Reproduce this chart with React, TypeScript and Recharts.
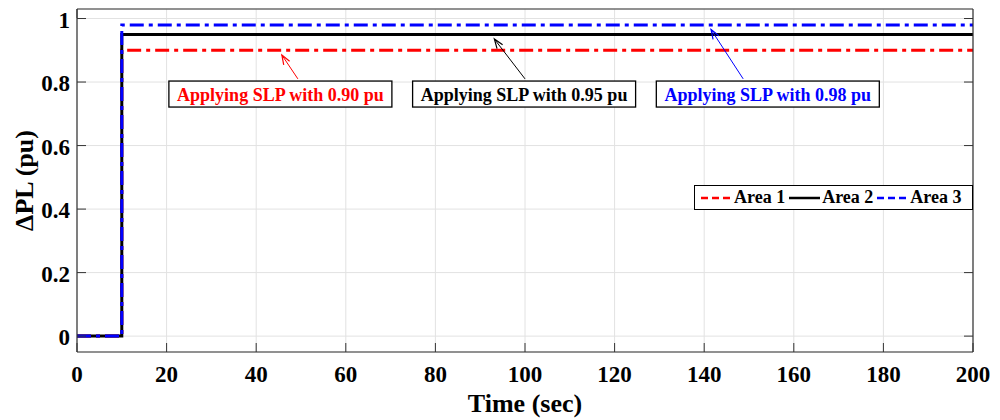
import React from "react";
import {
  CartesianGrid,
  Legend,
  Line,
  LineChart,
  ReferenceDot,
  ReferenceLine,
  XAxis,
  YAxis,
} from "recharts";

// step input: load change applied at t = 10 s
const time = [0, 10, 200];
const area1 = [0, 0.9, 0.9];
const area2 = [0, 0.95, 0.95];
const area3 = [0, 0.98, 0.98];

const xTicks = [0, 20, 40, 60, 80, 100, 120, 140, 160, 180, 200];
const yTicks = [0, 0.2, 0.4, 0.6, 0.8, 1];

// annotation boxes + arrows (data coordinates)
const noteTexts = ["Applying SLP with 0.90 pu", "Applying SLP with 0.95 pu", "Applying SLP with 0.98 pu"];
const noteColors = ["#ff0000", "#000000", "#0000ff"];
const noteBoxX = [45.4, 99.8, 154.2];
const noteBoxY = [0.8, 0.8, 0.8];
const noteTailX = [49.3, 100, 148.7];
const noteTailY = [0.81, 0.81, 0.81];
const noteTipX = [45.5, 92.9, 141.3];
const noteTipY = [0.9, 0.95, 0.98];

const FONT = '"Liberation Serif", "Times New Roman", serif';
const AXIS = "#333";

const data = time.map((t, i) => ({ t, a1: area1[i], a2: area2[i], a3: area3[i] }));

const legendDash: Record<string, string | undefined> = { a1: "7 4", a2: undefined, a3: "7 4" };

function BottomTick({ x, y, payload }: any) {
  return (
    <g>
      <line x1={x} x2={x} y1={y} y2={y - 9} stroke={AXIS} />
      <text x={x} y={y + 30} textAnchor="middle" fontFamily={FONT} fontSize={23} fontWeight="bold" fill="#000">
        {payload.value}
      </text>
    </g>
  );
}

function LeftTick({ x, y, payload }: any) {
  return (
    <g>
      <line x1={x} x2={x + 9} y1={y} y2={y} stroke={AXIS} />
      <text x={x - 7} y={y + 9} textAnchor="end" fontFamily={FONT} fontSize={23} fontWeight="bold" fill="#000">
        {payload.value}
      </text>
    </g>
  );
}

function TopTick({ x, y }: any) {
  return <line x1={x} x2={x} y1={y} y2={y + 9} stroke={AXIS} />;
}

function RightTick({ x, y }: any) {
  return <line x1={x} x2={x - 9} y1={y} y2={y} stroke={AXIS} />;
}

function arrowShape(color: string) {
  return (p: any) => {
    const { x1, y1, x2, y2 } = p;
    const ang = Math.atan2(y2 - y1, x2 - x1);
    const tx = x2 - 2 * Math.cos(ang);
    const ty = y2 - 2 * Math.sin(ang) + 3;
    const h = 10;
    const a1 = ang + Math.PI - 0.35;
    const a2 = ang + Math.PI + 0.35;
    return (
      <g>
        <line x1={x1} y1={y1} x2={tx} y2={ty} stroke={color} strokeWidth={1} />
        <polyline
          points={`${tx + h * Math.cos(a1)},${ty + h * Math.sin(a1)} ${tx},${ty} ${tx + h * Math.cos(a2)},${ty + h * Math.sin(a2)}`}
          fill="none"
          stroke={color}
          strokeWidth={1.2}
        />
      </g>
    );
  };
}

function boxShape(text: string, color: string) {
  return ({ cx, cy }: any) => (
    <g>
      <rect x={cx - 111.5} y={cy - 1} width={223} height={26} fill="#fff" stroke="#000" strokeWidth={1.3} />
      <text x={cx} y={cy + 19} textAnchor="middle" fontFamily={FONT} fontSize={18} fontWeight="bold" fill={color}>
        {text}
      </text>
    </g>
  );
}

function LegendBox({ payload }: any) {
  return (
    <div
      style={{
        boxSizing: "border-box",
        width: 279,
        height: 25,
        border: "1.5px solid #000",
        background: "#fff",
        display: "flex",
        alignItems: "center",
        paddingLeft: 6,
        fontFamily: FONT,
        fontWeight: "bold",
        fontSize: 18,
        color: "#000",
        whiteSpace: "nowrap",
      }}
    >
      {(payload || []).map((e: any) => (
        <span key={e.dataKey} style={{ display: "flex", alignItems: "center", marginRight: 4 }}>
          <svg width={31} height={6} style={{ marginRight: 2 }}>
            <line x1={0} x2={31} y1={3} y2={3} stroke={e.color} strokeWidth={2.5} strokeDasharray={legendDash[e.dataKey]} />
          </svg>
          {e.value}
        </span>
      ))}
    </div>
  );
}

export default function App() {
  return (
    <div style={{ position: "absolute", left: 0, top: 0, background: "#fff" }}>
      <LineChart width={1000} height={420} data={data} margin={{ top: 8, right: 26, bottom: 67, left: 76 }}>
        <CartesianGrid stroke="#e2e2e2" strokeWidth={1} />
        <XAxis
          dataKey="t"
          type="number"
          domain={[0, 200]}
          ticks={xTicks}
          interval={0}
          height={1}
          tickSize={0}
          tickMargin={0}
          tickLine={false}
          tick={<BottomTick />}
          axisLine={{ stroke: AXIS, strokeWidth: 1.2 }}
          allowDataOverflow
          label={{
            content: ({ viewBox }: any) => (
              <text
                x={viewBox.x + viewBox.width / 2}
                y={viewBox.y + 60}
                textAnchor="middle"
                fontFamily={FONT}
                fontSize={26}
                fontWeight="bold"
                fill="#000"
              >
                Time (sec)
              </text>
            ),
          }}
        />
        <XAxis
          xAxisId="top"
          orientation="top"
          type="number"
          domain={[0, 200]}
          ticks={xTicks}
          interval={0}
          height={1}
          tickSize={0}
          tickMargin={0}
          tickLine={false}
          tick={<TopTick />}
          axisLine={{ stroke: AXIS, strokeWidth: 1.2 }}
          allowDataOverflow
        />
        <YAxis
          type="number"
          domain={[-0.05, 1.03]}
          ticks={yTicks}
          interval={0}
          width={1}
          tickSize={0}
          tickMargin={0}
          tickLine={false}
          tick={<LeftTick />}
          axisLine={{ stroke: AXIS, strokeWidth: 1.2 }}
          allowDataOverflow
          label={{
            content: ({ viewBox }: any) => {
              const cx = viewBox.x - 43;
              const cy = viewBox.y + viewBox.height / 2;
              return (
                <text
                  x={cx}
                  y={cy}
                  transform={`rotate(-90 ${cx} ${cy})`}
                  textAnchor="middle"
                  fontFamily={FONT}
                  fontSize={26}
                  fontWeight="bold"
                  fill="#000"
                >
                  ΔPL (pu)
                </text>
              );
            },
          }}
        />
        <YAxis
          yAxisId="right"
          orientation="right"
          type="number"
          domain={[-0.05, 1.03]}
          ticks={yTicks}
          interval={0}
          width={1}
          tickSize={0}
          tickMargin={0}
          tickLine={false}
          tick={<RightTick />}
          axisLine={{ stroke: AXIS, strokeWidth: 1.2 }}
          allowDataOverflow
        />
        <Legend
          layout="horizontal"
          verticalAlign="middle"
          align="center"
          wrapperStyle={{ left: 694, top: 185, width: 279, height: 25 }}
          content={<LegendBox />}
        />
        <Line
          type="stepAfter"
          dataKey="a1"
          name="Area 1"
          stroke="#ff0000"
          strokeWidth={3}
          strokeDasharray="14 5 4 5"
          dot={false}
          isAnimationActive={false}
        />
        <Line
          type="stepAfter"
          dataKey="a2"
          name="Area 2"
          stroke="#000000"
          strokeWidth={3}
          dot={false}
          isAnimationActive={false}
        />
        <Line
          type="stepAfter"
          dataKey="a3"
          name="Area 3"
          stroke="#0000ff"
          strokeWidth={3}
          strokeDasharray="14 5 4 5"
          dot={false}
          isAnimationActive={false}
        />
        {noteTexts.map((txt, i) => (
          <ReferenceLine
            key={`arrow-${i}`}
            segment={[
              { x: noteTailX[i], y: noteTailY[i] },
              { x: noteTipX[i], y: noteTipY[i] },
            ]}
            stroke={noteColors[i]}
            shape={arrowShape(noteColors[i])}
          />
        ))}
        {noteTexts.map((txt, i) => (
          <ReferenceDot
            key={`box-${i}`}
            x={noteBoxX[i]}
            y={noteBoxY[i]}
            r={0}
            shape={boxShape(txt, noteColors[i])}
          />
        ))}
      </LineChart>
    </div>
  );
}
